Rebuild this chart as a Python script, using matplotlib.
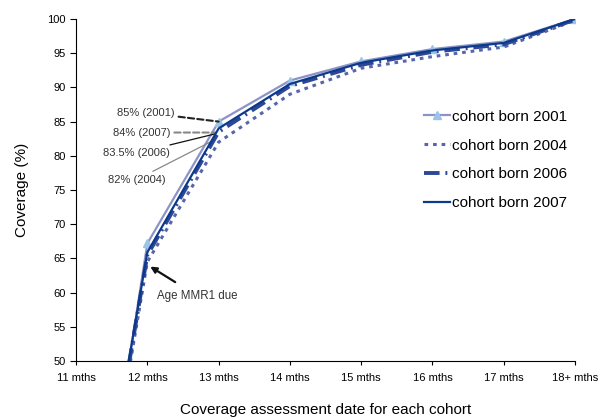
import matplotlib
matplotlib.use('Agg')
import matplotlib.pyplot as plt

plt.rcParams['font.family'] = ['Liberation Sans', 'DejaVu Sans']

ticks = ["11 mths", "12 mths", "13 mths", "14 mths", "15 mths", "16 mths", "17 mths", "18+ mths"]
cov_2001 = [0, 67.2, 85.0, 91.0, 93.8, 95.6, 96.7, 100.0]
cov_2004 = [3, 64.5, 82.0, 89.0, 92.8, 94.5, 95.9, 99.8]
cov_2006 = [4, 65.5, 83.5, 90.2, 93.3, 95.2, 96.3, 99.9]
cov_2007 = [5, 65.9, 84.0, 90.5, 93.6, 95.4, 96.5, 100.0]

x = list(range(len(ticks)))

fig = plt.figure(figsize=(6.04, 4.2), dpi=100)
ax = fig.add_axes([0.126, 0.1405, 0.826, 0.8143])

ax.plot(x, cov_2001, color="#8c93c8", lw=1.6, marker="^", markersize=6,
        markerfacecolor="#9cc3e8", markeredgecolor="#9cc3e8", label="cohort born 2001", zorder=2)
ax.plot(x, cov_2004, color="#5766ab", lw=2.2, ls=(0, (1.2, 1.6)), label="cohort born 2004", zorder=3)
ax.plot(x, cov_2006, color="#2d4796", lw=2.8, ls=(0, (4, 1.5, 0.5, 1.5)), label="cohort born 2006", zorder=4)
ax.plot(x, cov_2007, color="#0c3a8a", lw=1.6, label="cohort born 2007", zorder=5)

ax.set_xlim(0, len(ticks) - 1)
ax.set_ylim(50, 100)
ax.set_xticks(x)
ax.set_xticklabels(ticks, fontsize=8)
ax.set_yticks(range(50, 101, 5))
ax.tick_params(axis='y', labelsize=8, length=4, direction='out')
ax.tick_params(axis='x', length=3, direction='out', pad=6)
for s in ["top", "right"]:
    ax.spines[s].set_visible(False)

ax.set_ylabel("Coverage (%)", fontsize=11, labelpad=13)
ax.set_xlabel("Coverage assessment date for each cohort", fontsize=11, labelpad=14)

# callouts at 13 mths
ax.annotate("85% (2001)", xy=(2, 85.0), xytext=(1.38, 86.3), fontsize=8, color="#333333",
            ha="right", va="center",
            arrowprops=dict(arrowstyle="-", color="#222222", lw=1.5, ls=(0, (3, 1.5)), shrinkA=1, shrinkB=0))
ax.annotate("84% (2007)", xy=(1.96, 83.4), xytext=(1.32, 83.4), fontsize=8, color="#333333",
            ha="right", va="center",
            arrowprops=dict(arrowstyle="-", color="#888888", lw=1.5, ls=(0, (3, 1.5)), shrinkA=1, shrinkB=0))
ax.annotate("83.5% (2006)", xy=(1.95, 83.2), xytext=(1.32, 80.4), fontsize=8, color="#333333",
            ha="right", va="center",
            arrowprops=dict(arrowstyle="-", color="#111111", lw=0.9, shrinkA=1, shrinkB=0))
ax.annotate("82% (2004)", xy=(1.88, 82.0), xytext=(1.25, 76.5), fontsize=8, color="#333333",
            ha="right", va="center",
            arrowprops=dict(arrowstyle="-", color="#888888", lw=0.9, shrinkA=1, shrinkB=0))

ax.annotate("Age MMR1 due", xy=(1.04, 63.8), xytext=(1.14, 59.5), fontsize=8.3, color="#333333",
            ha="left", va="center",
            arrowprops=dict(arrowstyle="-|>", color="#111111", lw=1.6, mutation_scale=9,
                            shrinkA=7, shrinkB=0))

leg = ax.legend(loc="upper left", bbox_to_anchor=(0.669, 0.775), frameon=False, fontsize=11,
                handlelength=1.7, handletextpad=0.15, labelspacing=0.97)

fig.savefig("out.png", dpi=100)
